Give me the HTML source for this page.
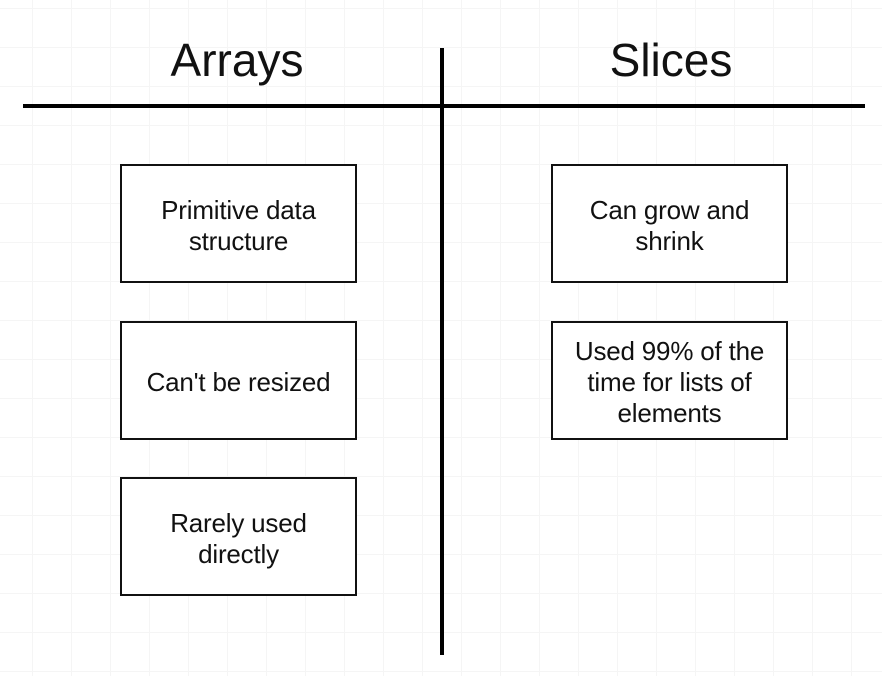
<!DOCTYPE html>
<html><head><style>
body{margin:0;width:882px;height:676px;overflow:hidden;background:#fff;
background-image:linear-gradient(#f5f5f5 1px,transparent 1px),linear-gradient(90deg,#f5f5f5 1px,transparent 1px);
background-size:39px 39px;background-position:32px 47px;font-family:"Liberation Sans",sans-serif;position:relative}
.t{position:absolute;font-size:46px;color:#111;text-align:center;width:300px;top:33px}
.b{position:absolute;width:233px;height:111px;padding-top:4px;border:2.5px solid #111;background:#fff;display:flex;align-items:center;justify-content:center;text-align:center;font-size:26px;line-height:31px;color:#111;box-sizing:content-box;letter-spacing:-0.2px}
.h{position:absolute;left:23px;top:104px;width:842px;height:4px;background:#000}
.v{position:absolute;left:440px;top:48px;width:4px;height:607px;background:#000}
</style></head><body>
<div class="t" style="left:87px">Arrays</div>
<div class="t" style="left:521px">Slices</div>
<div class="h"></div><div class="v"></div>
<div class="b" style="left:120px;top:164px">Primitive data<br>structure</div>
<div class="b" style="left:120px;top:321px">Can't be resized</div>
<div class="b" style="left:120px;top:477px">Rarely used<br>directly</div>
<div class="b" style="left:551px;top:164px">Can grow and<br>shrink</div>
<div class="b" style="left:551px;top:321px">Used 99% of the<br>time for lists of<br>elements</div>
</body></html>
